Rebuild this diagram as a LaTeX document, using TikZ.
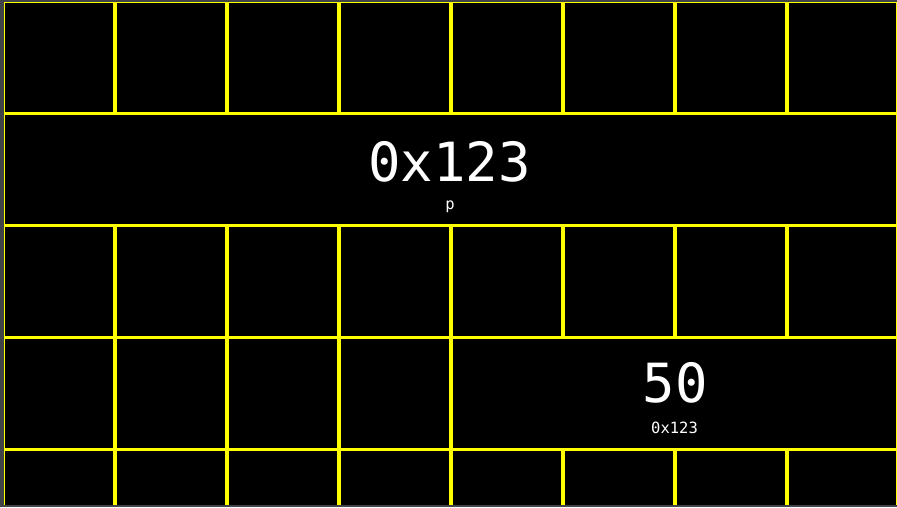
\documentclass[tikz,border=0pt]{standalone}
\usepackage{fontspec}
\setmonofont{DejaVu Sans Mono}
\definecolor{bggray}{RGB}{64,67,71}
\definecolor{gridyellow}{RGB}{255,255,0}
\begin{document}
\begin{tikzpicture}[x=1pt,y=-1pt,
  gridline/.style={draw=gridyellow,line width=3.5pt},
  frameline/.style={draw=gridyellow,line width=1.2pt},
  bigval/.style={text=white,font=\ttfamily\fontsize{54}{54}\selectfont,anchor=base,inner sep=0pt},
  smalllbl/.style={text=white,font=\ttfamily\fontsize{15.5}{15.5}\selectfont,anchor=base,inner sep=0pt}]
\useasboundingbox (0,0) rectangle (897,507);
\fill[bggray] (0,0) rectangle (897,507);
\fill[black] (4,2) rectangle (897,505);
% thin outer frame
\draw[frameline] (4.5,505) -- (4.5,2.5) -- (896.5,2.5) -- (896.5,505);
% horizontal grid lines
\foreach \y in {113.5,225.5,337.5,449.5} {
  \draw[gridline] (4,\y) -- (897,\y);
}
% vertical grid lines: rows 1, 3, 5 full
\foreach \x in {115,227,...,787} {
  \draw[gridline] (\x,2) -- (\x,113.5);
  \draw[gridline] (\x,225.5) -- (\x,337.5);
  \draw[gridline] (\x,449.5) -- (\x,505);
}
% row 4: left cells only
\foreach \x in {115,227,339,451} {
  \draw[gridline] (\x,337.5) -- (\x,449.5);
}
% texts
\node[bigval] (pval) at (449.5,181.5) {0x123};
\node[smalllbl] (plbl) at (450,209.5) {p};
\node[bigval] (cval) at (675,402.3) {50};
\node[smalllbl] (clbl) at (674.5,433.3) {0x123};
\end{tikzpicture}
\end{document}
